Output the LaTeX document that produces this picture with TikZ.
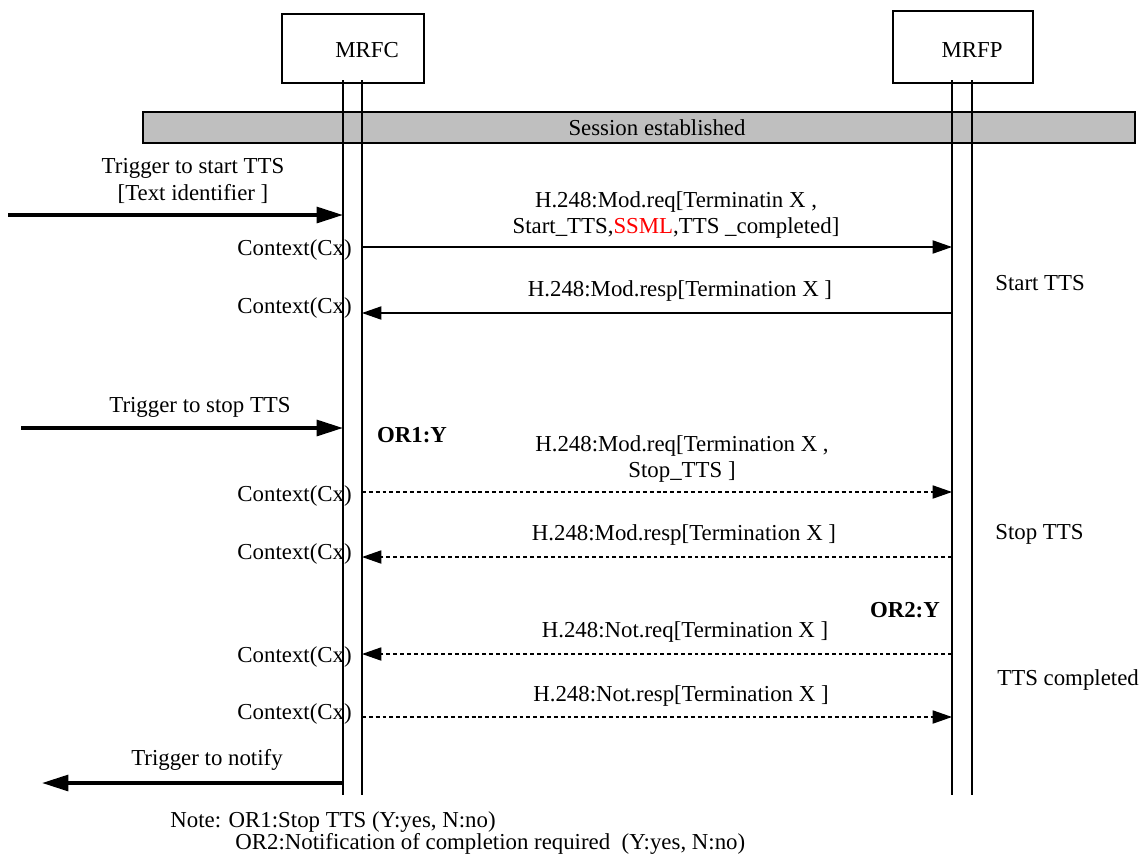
\documentclass[tikz,border=0pt]{standalone}
\usepackage{fontspec}
\setmainfont{Liberation Serif}
\usetikzlibrary{arrows.meta}
\begin{document}
\begin{tikzpicture}[x=0.02cm, y=-0.02cm, font=\fontsize{13}{15}\selectfont,
  ent/.style = {draw, line width=0.9pt, inner sep=0pt},
  bar/.style = {draw, line width=0.9pt, fill=black!25, inner sep=0pt, minimum width=19.84cm, minimum height=0.62cm},
  life/.style = {line width=0.9pt},
  msg/.style = {line width=0.7pt, -{Triangle[length=11pt, width=7.5pt]}},
  dmsg/.style = {msg, dash pattern=on 2.2pt off 1.7pt},
  big/.style = {line width=2pt, -{Triangle[length=15pt, width=9pt]}},
  ctx/.style = {anchor=east, inner sep=0pt},
  phase/.style = {anchor=west, inner sep=0pt}]
\useasboundingbox (0,0) rectangle (1140,856);
\node[ent, minimum width=2.84cm, minimum height=1.38cm] (mrfc) at (353,48.5) {};
\node at (367,50) {MRFC};
\node[ent, minimum width=2.8cm, minimum height=1.44cm] (mrfp) at (963,47) {};
\node at (972,50) {MRFP};
\coordinate (fc1) at (343,80);
\coordinate (fc2) at (362,80);
\coordinate (fp1) at (952,80);
\coordinate (fp2) at (972,80);
\coordinate (bot) at (0,795);
\node[bar] (sess) at (639,127.5) {};
\node at (657,128) {Session established};
\draw[life] (fc1) -- (fc1 |- bot);
\draw[life] (fc2) -- (fc2 |- bot);
\draw[life] (fp1) -- (fp1 |- bot);
\draw[life] (fp2) -- (fp2 |- bot);
\node[align=center] (trg1) at (193,181) {Trigger to start TTS\\{[}Text identifier ]};
\coordinate (t1) at (8,215);
\draw[big] (t1) -- (fc1 |- t1);
\node[ctx] (cx1) at (352,250) {Context(Cx)};
\node[ctx] (cx2) at (352,308) {Context(Cx)};
\node[ctx] (cx3) at (352,496) {Context(Cx)};
\node[ctx] (cx4) at (352,554) {Context(Cx)};
\node[ctx] (cx5) at (352,657) {Context(Cx)};
\node[ctx] (cx6) at (352,714) {Context(Cx)};
\coordinate (m1) at (0,247);
\coordinate (m2) at (0,313);
\coordinate (m3) at (0,492);
\coordinate (m4) at (0,557);
\coordinate (m5) at (0,654);
\coordinate (m6) at (0,717);
\node[align=center] (l1) at (676,215) {H.248:Mod.req[Terminatin X ,\\ Start\_TTS,\textcolor{red}{SSML},TTS \_completed]};
\draw[msg] (fc2 |- m1) -- (fp1 |- m1);
\node (l2) at (680,291) {H.248:Mod.resp[Termination X ]};
\draw[msg] (fp1 |- m2) -- (fc2 |- m2);
\node[phase] (s1) at (995,283) {Start TTS};
\node (trg2) at (200,407) {Trigger to stop TTS};
\coordinate (t2) at (21,428);
\draw[big] (t2) -- (fc1 |- t2);
\node[anchor=west, font=\fontsize{13}{15}\selectfont\bfseries] (or1) at (371,435) {OR1:Y};
\node[align=center] (l3) at (682,459) {H.248:Mod.req[Termination X ,\\ Stop\_TTS ]};
\draw[dmsg] (fc2 |- m3) -- (fp1 |- m3);
\node (l4) at (684,535) {H.248:Mod.resp[Termination X ]};
\draw[dmsg] (fp1 |- m4) -- (fc2 |- m4);
\node[phase] (s2) at (995,534) {Stop TTS};
\node[anchor=east, font=\fontsize{13}{15}\selectfont\bfseries] (or2) at (946,610) {OR2:Y};
\node (l5) at (685,632) {H.248:Not.req[Termination X ]};
\draw[dmsg] (fp1 |- m5) -- (fc2 |- m5);
\node[phase] (s3) at (997,680) {TTS completed};
\node (l6) at (681,696) {H.248:Not.resp[Termination X ]};
\draw[dmsg] (fc2 |- m6) -- (fp1 |- m6);
\node (trg3) at (207,760) {Trigger to notify};
\coordinate (t3) at (42,783);
\draw[big] (fc1 |- t3) -- (t3);
\node[anchor=west, align=left, inner sep=0pt, font=\fontsize{13}{12.5}\selectfont] (note) at (170,833) {Note: OR1:Stop TTS (Y:yes, N:no)\\ \hspace{37pt}OR2:Notification of completion required\ \ (Y:yes, N:no)};
\end{tikzpicture}
\end{document}
